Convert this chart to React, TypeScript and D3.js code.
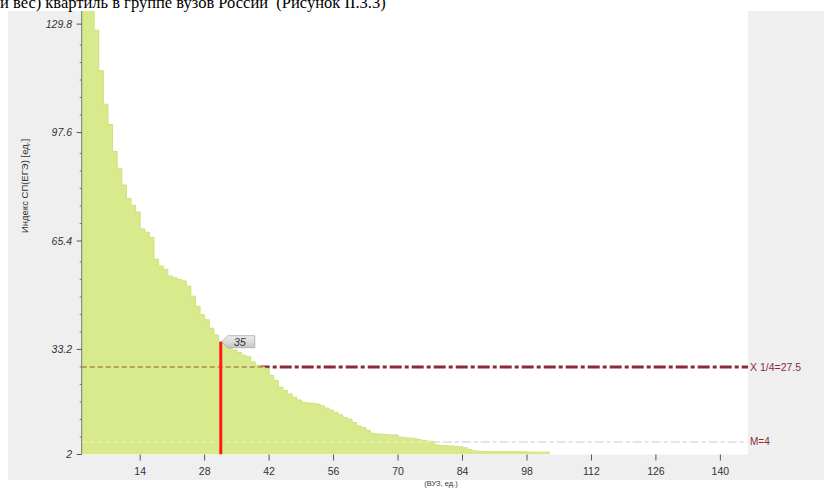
import React from "react";
import * as d3 from "d3";

// Sorted index values per university (rank 1..N)
const values: number[] = [
  160, 148, 138, 128, 116, 106, 100, 92, 87, 82,
  78, 76, 74, 69, 68, 66.5, 60, 58, 57, 55,
  54.5, 54, 53.5, 52, 49, 46, 43.5, 42, 39.5, 37.5,
  35.5, 34.5, 33.5, 33, 32.3, 31.5, 31, 29.5, 28.5, 28,
  27.6, 25.5, 24, 22, 21, 20, 19, 18.2, 17.5, 17.3,
  17.2, 17, 16.5, 15.8, 15.2, 14.5, 13.8, 13, 12.5, 11.5,
  10.5, 10, 9.2, 8.3, 8.1, 8, 7.9, 7.8, 7.8, 7.2,
  7, 6.9, 6.8, 6.5, 6.2, 6, 5.8, 4.8, 4.7, 4.6,
  4.5, 4.4, 4.3, 4, 3.5, 3.1, 2.9, 2.9, 2.8, 2.8,
  2.8, 2.8, 2.8, 2.8, 2.8, 2.8, 2.8, 2.7, 2.7, 2.7,
  2.7, 2.7,
];

const xTicks: number[] = [14, 28, 42, 56, 70, 84, 98, 112, 126, 140];
const yTicks: number[] = [2, 33.2, 65.4, 97.6, 129.8];

const quartileValue = 28;
const quartileLabel = "X 1/4=27.5";
const mValue = 5.7;
const mLabel = "M=4";
const markerRank = 31;
const markerLabel = "35";

const titleText = "и вес) квартиль в группе вузов России  (Рисунок II.3.3)";
const yAxisTitle = "Индекс СП(ЕГЭ) [ед.]";
const xAxisTitle = "(ВУЗ, ед.)";

const plot = { left: 81.7, right: 748, top: 11, bottom: 454.5 };

export default function App() {
  const x = d3.scaleLinear().domain([1.3, 146]).range([plot.left, plot.right]);
  const y = d3.scaleLinear().domain([2, 133.7]).range([plot.bottom, plot.top]);

  const pts: [number, number][] = values.map((v, i) => [i + 1, v]);
  pts.push([values.length + 1, values[values.length - 1]]);

  const area = d3
    .area<[number, number]>()
    .curve(d3.curveStepAfter)
    .x((d) => x(d[0]))
    .y0(plot.bottom)
    .y1((d) => y(d[1]));
  const line = d3
    .line<[number, number]>()
    .curve(d3.curveStepAfter)
    .x((d) => x(d[0]))
    .y((d) => y(d[1]));

  const majorStep = yTicks[1] - yTicks[0];
  const minorTicks: number[] = [];
  for (let i = 0; i < yTicks.length - 1; i++) {
    for (let k = 1; k < 6; k++) minorTicks.push(yTicks[i] + (majorStep * k) / 6);
  }
  for (let k = 1; k < 3; k++) minorTicks.push(yTicks[yTicks.length - 1] + (majorStep * k) / 6);

  const mx = x(markerRank + 0.5);
  const my = y(values[markerRank - 1]);
  const fontUI = "'Liberation Sans', Arial, sans-serif";
  const areaD = area(pts) || "";

  return (
    <svg
      width={824}
      height={488}
      style={{ position: "fixed", left: 0, top: 0, background: "#ffffff" }}
    >
      <defs>
        <clipPath id="plotClip">
          <rect x={plot.left} y={plot.top} width={plot.right - plot.left} height={plot.bottom - plot.top} />
        </clipPath>
        <clipPath id="areaClip">
          <path d={areaD} />
        </clipPath>
        <linearGradient id="lblGrad" x1="0" y1="0" x2="0" y2="1">
          <stop offset="0" stopColor="#eeeeee" />
          <stop offset="1" stopColor="#c8c8c8" />
        </linearGradient>
      </defs>
      {/* panel background */}
      <rect x={8} y={11} width={816} height={469} fill="#efefef" />
      <rect x={plot.left} y={plot.top} width={plot.right - plot.left} height={plot.bottom - plot.top} fill="#ffffff" />

      <g clipPath="url(#plotClip)">
        {/* reference lines (under area) */}
        <line
          x1={plot.left}
          x2={plot.right}
          y1={y(quartileValue)}
          y2={y(quartileValue)}
          stroke="#8b2a3a"
          strokeWidth={3}
          strokeDasharray="12,3,4,3"
        />
        <line
          x1={plot.left}
          x2={plot.right}
          y1={y(mValue)}
          y2={y(mValue)}
          stroke="#f1dfe2"
          strokeWidth={2}
          strokeDasharray="9,3,4,3"
        />
        <path d={areaD} fill="#d8ea8c" />
        <path d={line(pts) || ""} fill="none" stroke="#cde27a" strokeWidth={1} />
        {/* parts of the reference lines seen through the area */}
        <g clipPath="url(#areaClip)">
          <line
            x1={plot.left}
            x2={plot.right}
            y1={y(quartileValue)}
            y2={y(quartileValue)}
            stroke="#b08548"
            strokeWidth={1.5}
            strokeDasharray="5,3"
          />
          <line
            x1={plot.left}
            x2={plot.right}
            y1={y(mValue)}
            y2={y(mValue)}
            stroke="#e6efb4"
            strokeWidth={1.5}
            strokeDasharray="5,3"
          />
        </g>
        {/* marker */}
        <line x1={mx} x2={mx} y1={my} y2={plot.bottom} stroke="#ff1a1a" strokeWidth={3} />
      </g>

      {/* marker label */}
      <g>
        <path
          d={`M${mx + 1},${my} L${mx + 7},${my - 6} L${mx + 34},${my - 6} L${mx + 34},${my + 6} L${mx + 7},${my + 6} Z`}
          fill="url(#lblGrad)"
          stroke="#a8a8a8"
          strokeWidth={0.8}
        />
        <text x={mx + 19} y={my + 4} textAnchor="middle" fontSize={11} fontStyle="italic" fill="#333" fontFamily={fontUI}>
          {markerLabel}
        </text>
      </g>

      {/* right labels */}
      <text x={750} y={y(quartileValue) + 4} fontSize={10.5} fill="#8b2a3a" fontFamily={fontUI}>
        {quartileLabel}
      </text>
      <text x={750} y={y(mValue) + 3} fontSize={10} fill="#8b2a3a" fontFamily={fontUI}>
        {mLabel}
      </text>

      {/* y axis */}
      <line x1={plot.left} x2={plot.left} y1={plot.top} y2={plot.bottom} stroke="#777" strokeWidth={1} />
      {minorTicks.map((t, i) => (
        <line key={"m" + i} x1={plot.left - 2} x2={plot.left} y1={y(t)} y2={y(t)} stroke="#777" />
      ))}
      {yTicks.map((t) => (
        <g key={"y" + t}>
          <line x1={plot.left - 5} x2={plot.left} y1={y(t)} y2={y(t)} stroke="#555" />
          <text x={72} y={y(t) + 3.5} textAnchor="end" fontSize={10.5} fontStyle="italic" fill="#333" fontFamily={fontUI}>
            {String(t)}
          </text>
        </g>
      ))}
      <text
        transform={`translate(28,186) rotate(-90)`}
        textAnchor="middle"
        fontSize={9.5}
        fill="#333"
        fontFamily={fontUI}
      >
        {yAxisTitle}
      </text>

      {/* x axis */}
      {xTicks.map((t) => (
        <g key={"x" + t}>
          <line x1={x(t)} x2={x(t)} y1={plot.bottom} y2={plot.bottom + 6} stroke="#555" />
          <text x={x(t)} y={475} textAnchor="middle" fontSize={10.5} fill="#333" fontFamily={fontUI}>
            {String(t)}
          </text>
        </g>
      ))}
      <text x={441} y={486} textAnchor="middle" fontSize={7.5} fill="#333" fontFamily={fontUI}>
        {xAxisTitle}
      </text>

      {/* document text above the chart */}
      <text
        x={0}
        y={8}
        fontSize={16.5}
        fill="#000"
        fontFamily="'Liberation Serif', 'Times New Roman', serif"
        style={{ whiteSpace: "pre" }}
      >
        {titleText}
      </text>
    </svg>
  );
}
